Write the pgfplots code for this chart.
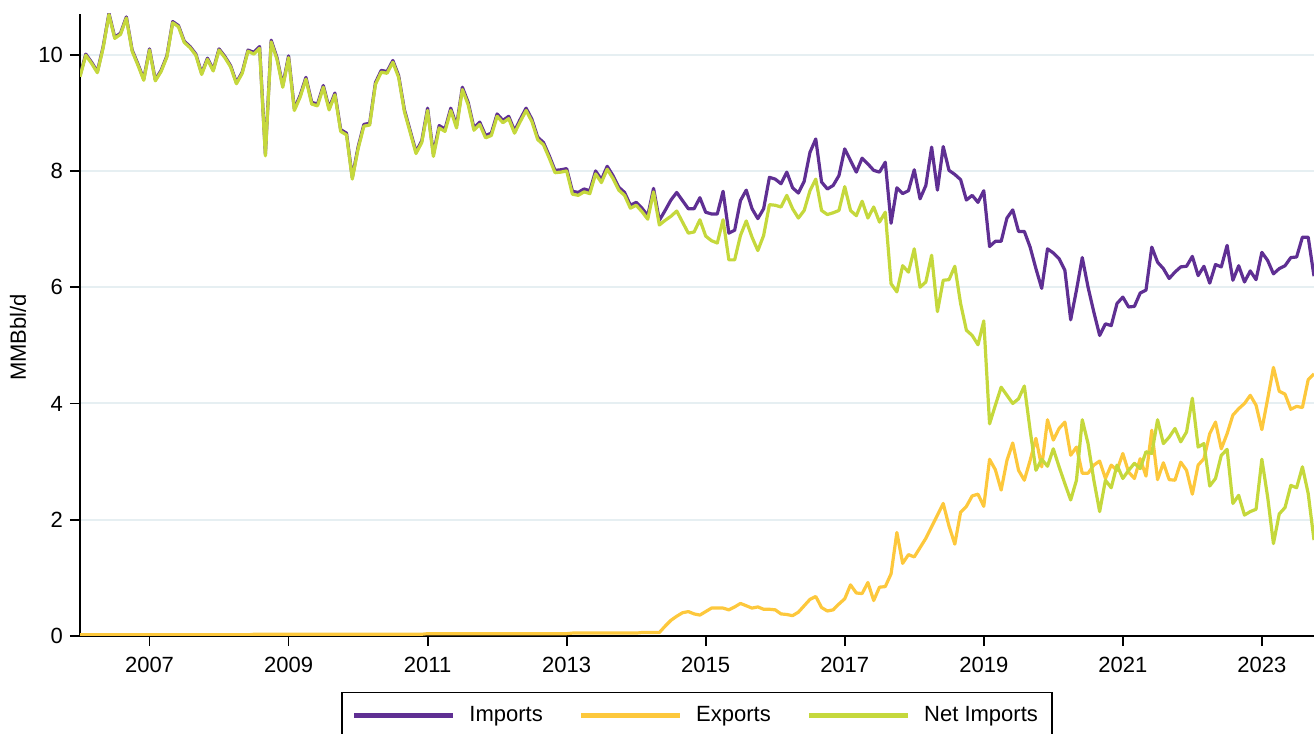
\documentclass[border=0pt]{standalone}
\usepackage{fontspec}
\setmainfont{Liberation Sans}
\usepackage{pgfplots}
\usepackage{pgfplotstable}
\pgfplotsset{compat=1.18}
\definecolor{imports}{HTML}{5F2F93}
\definecolor{exports}{HTML}{FDC83C}
\definecolor{netimp}{HTML}{C5D83C}
\definecolor{gridc}{HTML}{E6EFF2}

% monthly, m = months since Jan 2006
\pgfplotstableread{
m imp exp net
0 9.64 0.02 9.62
1 10.01 0.02 9.99
2 9.87 0.02 9.85
3 9.71 0.02 9.69
4 10.14 0.02 10.12
5 10.71 0.02 10.69
6 10.30 0.02 10.28
7 10.37 0.02 10.35
8 10.65 0.02 10.63
9 10.08 0.02 10.06
10 9.84 0.02 9.82
11 9.58 0.02 9.56
12 10.10 0.02 10.08
13 9.57 0.02 9.55
14 9.73 0.02 9.71
15 9.98 0.02 9.96
16 10.57 0.02 10.55
17 10.50 0.02 10.48
18 10.23 0.02 10.21
19 10.14 0.02 10.12
20 10.01 0.02 9.99
21 9.68 0.02 9.66
22 9.94 0.02 9.92
23 9.74 0.02 9.72
24 10.10 0.02 10.08
25 9.97 0.02 9.95
26 9.81 0.02 9.79
27 9.52 0.02 9.50
28 9.70 0.02 9.68
29 10.08 0.02 10.06
30 10.04 0.03 10.01
31 10.14 0.03 10.11
32 8.29 0.03 8.26
33 10.25 0.03 10.22
34 9.95 0.03 9.92
35 9.47 0.03 9.44
36 9.98 0.03 9.95
37 9.07 0.03 9.04
38 9.30 0.03 9.27
39 9.61 0.03 9.58
40 9.18 0.03 9.15
41 9.15 0.03 9.12
42 9.47 0.03 9.44
43 9.08 0.03 9.05
44 9.34 0.03 9.31
45 8.71 0.03 8.68
46 8.65 0.03 8.62
47 7.89 0.03 7.86
48 8.41 0.03 8.38
49 8.80 0.03 8.77
50 8.82 0.03 8.79
51 9.52 0.03 9.49
52 9.73 0.03 9.70
53 9.71 0.03 9.68
54 9.90 0.03 9.87
55 9.64 0.03 9.61
56 9.05 0.03 9.02
57 8.69 0.03 8.66
58 8.33 0.03 8.30
59 8.52 0.03 8.49
60 9.08 0.04 9.04
61 8.29 0.04 8.25
62 8.78 0.04 8.74
63 8.72 0.04 8.68
64 9.08 0.04 9.04
65 8.78 0.04 8.74
66 9.44 0.04 9.40
67 9.18 0.04 9.14
68 8.74 0.04 8.70
69 8.84 0.04 8.80
70 8.61 0.04 8.57
71 8.65 0.04 8.61
72 8.98 0.04 8.94
73 8.87 0.04 8.83
74 8.94 0.04 8.90
75 8.69 0.04 8.65
76 8.89 0.04 8.85
77 9.08 0.04 9.04
78 8.89 0.04 8.85
79 8.58 0.04 8.54
80 8.49 0.04 8.45
81 8.26 0.04 8.22
82 8.01 0.04 7.97
83 8.02 0.04 7.98
84 8.04 0.04 8.00
85 7.65 0.05 7.60
86 7.63 0.05 7.58
87 7.69 0.05 7.64
88 7.66 0.05 7.61
89 8.00 0.05 7.95
90 7.85 0.05 7.80
91 8.08 0.05 8.03
92 7.92 0.05 7.87
93 7.72 0.05 7.67
94 7.63 0.05 7.58
95 7.41 0.05 7.36
96 7.46 0.05 7.41
97 7.36 0.06 7.30
98 7.23 0.06 7.17
99 7.70 0.06 7.64
100 7.15 0.06 7.07
101 7.32 0.17 7.15
102 7.50 0.27 7.22
103 7.63 0.34 7.31
104 7.49 0.40 7.12
105 7.35 0.42 6.93
106 7.35 0.38 6.95
107 7.54 0.36 7.16
108 7.29 0.42 6.88
109 7.26 0.48 6.80
110 7.26 0.48 6.76
111 7.65 0.48 7.16
112 6.93 0.45 6.47
113 6.98 0.50 6.47
114 7.49 0.56 6.89
115 7.67 0.52 7.14
116 7.35 0.48 6.86
117 7.18 0.50 6.63
118 7.35 0.46 6.89
119 7.89 0.46 7.42
120 7.86 0.45 7.41
121 7.78 0.38 7.38
122 7.98 0.37 7.58
123 7.71 0.35 7.35
124 7.62 0.41 7.19
125 7.82 0.52 7.32
126 8.32 0.63 7.66
127 8.55 0.68 7.86
128 7.81 0.49 7.32
129 7.69 0.43 7.25
130 7.75 0.45 7.28
131 7.92 0.55 7.32
132 8.38 0.64 7.73
133 8.18 0.88 7.32
134 7.98 0.74 7.23
135 8.22 0.73 7.48
136 8.12 0.92 7.19
137 8.01 0.61 7.38
138 7.98 0.84 7.12
139 8.15 0.85 7.29
140 7.10 1.07 6.06
141 7.71 1.78 5.92
142 7.61 1.25 6.37
143 7.66 1.40 6.26
144 8.02 1.36 6.66
145 7.52 1.52 6.00
146 7.75 1.68 6.09
147 8.41 1.88 6.55
148 7.67 2.08 5.58
149 8.42 2.28 6.12
150 8.01 1.89 6.13
151 7.94 1.58 6.36
152 7.85 2.13 5.72
153 7.50 2.23 5.26
154 7.58 2.41 5.17
155 7.46 2.44 5.01
156 7.66 2.23 5.42
157 6.70 3.04 3.65
158 6.79 2.86 3.97
159 6.79 2.51 4.28
160 7.19 3.02 4.14
161 7.33 3.32 4.00
162 6.96 2.85 4.08
163 6.96 2.68 4.30
164 6.69 3.02 3.54
165 6.32 3.40 2.85
166 5.98 2.91 3.04
167 6.66 3.72 2.92
168 6.59 3.37 3.22
169 6.49 3.57 2.91
170 6.29 3.68 2.62
171 5.44 3.11 2.34
172 5.95 3.25 2.68
173 6.51 2.80 3.72
174 6.00 2.80 3.31
175 5.57 2.94 2.68
176 5.17 3.01 2.14
177 5.37 2.71 2.68
178 5.34 2.94 2.55
179 5.72 2.85 2.94
180 5.83 3.14 2.71
181 5.66 2.82 2.85
182 5.67 2.71 2.97
183 5.90 3.05 2.88
184 5.95 2.75 3.17
185 6.69 3.54 3.14
186 6.43 2.69 3.72
187 6.32 2.98 3.31
188 6.15 2.69 3.42
189 6.26 2.68 3.57
190 6.35 2.99 3.34
191 6.36 2.85 3.51
192 6.53 2.44 4.09
193 6.20 2.94 3.25
194 6.36 3.05 3.31
195 6.07 3.48 2.58
196 6.39 3.68 2.71
197 6.35 3.22 3.11
198 6.72 3.48 3.21
199 6.12 3.80 2.28
200 6.37 3.91 2.42
201 6.09 4.00 2.08
202 6.28 4.14 2.14
203 6.13 3.97 2.18
204 6.60 3.55 3.04
205 6.46 4.08 2.39
206 6.23 4.62 1.59
207 6.32 4.21 2.10
208 6.37 4.16 2.21
209 6.51 3.90 2.59
210 6.52 3.95 2.55
211 6.86 3.93 2.91
212 6.86 4.41 2.45
213 6.19 4.51 1.65
}\crude

\begin{document}
\begin{tikzpicture}
\begin{axis}[
  name=ax, at={(0,0)}, anchor=south west,
  scale only axis, width=617pt, height=311pt,
  xmin=0, xmax=213, ymin=0, ymax=10.7,
  axis x line*=bottom, axis y line*=left,
  axis line style={-, line width=0.9pt, black},
  xtick={12,36,60,84,108,132,156,180,204},
  xticklabels={2007,2009,2011,2013,2015,2017,2019,2021,2023},
  ytick={0,2,4,6,8,10},
  ymajorgrids, grid style={gridc, line width=1pt},
  tick align=outside, major tick length=5pt,
  tick style={black, line width=0.9pt},
  font=\fontsize{11}{13}\selectfont,
  /pgf/number format/assume math mode=true,
  xticklabel style={yshift=-2pt},
  ylabel={MMBbl/d},
  ylabel style={at={(axis description cs:-0.0502,0.48)}, anchor=center},
  legend columns=3,
  legend cell align=left,
  legend style={at={(axis description cs:0.5,-0.0896)}, anchor=north,
    draw=black, line width=0.7pt, inner xsep=5pt, inner ysep=5pt,
    /tikz/every odd column/.append style={column sep=5pt},
    /tikz/every even column/.append style={column sep=16pt}},
  legend image code/.code={\draw[#1, line width=2.2pt] (0pt,0pt) -- (49.5pt,0pt);},
]
\addplot[imports, line width=1.6pt, line join=round] table[x=m, y=imp]{\crude};
\addplot[exports, line width=1.6pt, line join=round] table[x=m, y=exp]{\crude};
\addplot[netimp, line width=1.6pt, line join=round] table[x=m, y=net]{\crude};
\legend{Imports, Exports, Net Imports}
\end{axis}
\pgfresetboundingbox
\useasboundingbox (-40pt,-49pt) rectangle (617pt,318pt);
\end{tikzpicture}
\end{document}
